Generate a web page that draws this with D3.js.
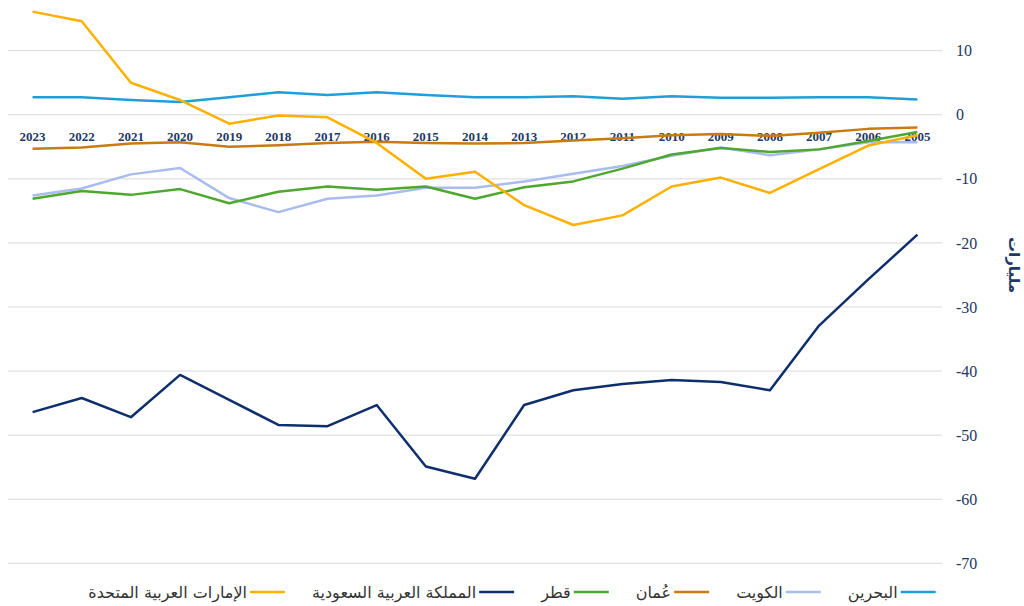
<!DOCTYPE html>
<html>
<head>
<meta charset="utf-8">
<script src="https://cdn.jsdelivr.net/npm/d3@7"></script>
<style>
  body { margin: 0; background: #fff; }
  svg { display: block; }
</style>
</head>
<body>
<svg id="chart" width="1024" height="606"></svg>
<script>
// years, right-to-left order as in the original (2023 on the left)
const years = ["2023","2022","2021","2020","2019","2018","2017","2016","2015","2014",
               "2013","2012","2011","2010","2009","2008","2007","2006","2005"];

const bahrain = [2.75,2.75,2.3,2.0,2.75,3.5,3.1,3.5,3.1,2.75,2.75,2.9,2.5,2.9,2.65,2.65,2.75,2.75,2.4];
const kuwait  = [-12.6,-11.5,-9.3,-8.3,-13.0,-15.2,-13.1,-12.6,-11.4,-11.4,-10.4,-9.2,-8.0,-6.4,-5.1,-6.3,-5.4,-4.3,-4.3];
const oman    = [-5.3,-5.1,-4.5,-4.3,-5.0,-4.75,-4.4,-4.2,-4.4,-4.5,-4.4,-4.0,-3.65,-3.2,-3.0,-3.3,-2.8,-2.2,-2.0];
const qatar   = [-13.1,-11.9,-12.5,-11.6,-13.8,-12.0,-11.2,-11.7,-11.2,-13.1,-11.3,-10.4,-8.4,-6.2,-5.2,-5.8,-5.4,-4.1,-2.7];
const saudi   = [-46.4,-44.2,-47.2,-40.6,-44.5,-48.4,-48.6,-45.3,-54.9,-56.8,-45.3,-43.0,-42.0,-41.4,-41.7,-43.0,-32.9,-25.7,-18.7];
const uae     = [16.1,14.6,5.0,2.3,-1.4,-0.1,-0.4,-4.4,-10.0,-8.9,-14.1,-17.2,-15.7,-11.2,-9.8,-12.2,-8.5,-4.8,-3.2];

const yTicks = [10,0,-10,-20,-30,-40,-50,-60,-70];

const series = [
  { name: "البحرين", values: bahrain, color: "#1f9fd9" },
  { name: "الكويت", values: kuwait, color: "#a9bcee" },
  { name: "عُمان", values: oman, color: "#c97a10" },
  { name: "قطر", values: qatar, color: "#4ea72e" },
  { name: "المملكة العربية السعودية", values: saudi, color: "#0f2f6c" },
  { name: "الإمارات العربية المتحدة", values: uae, color: "#ffb000" }
];

const svg = d3.select("#chart"),
      width = +svg.attr("width");

const plotLeft = 8, plotRight = 942;

const xScale = d3.scaleBand().domain(years).range([plotLeft, plotRight]);
const yScale = d3.scaleLinear().domain([-70, 10]).range([563.3, 50.7]);

// gridlines
svg.append("g")
  .selectAll("line")
  .data(yTicks)
  .join("line")
  .attr("x1", plotLeft)
  .attr("x2", plotRight)
  .attr("y1", d => yScale(d))
  .attr("y2", d => yScale(d))
  .attr("stroke", "#d9d9d9")
  .attr("stroke-width", 1);

// y axis on the right (plain hyphen for negatives)
const yAxis = svg.append("g")
  .attr("transform", `translate(${plotRight},0)`)
  .call(d3.axisRight(yScale).tickValues(yTicks).tickSize(0).tickPadding(14).tickFormat(d => String(d)));
yAxis.select(".domain").remove();
yAxis.selectAll("text")
  .attr("fill", "#203864")
  .style("font-family", "'Liberation Serif', serif")
  .style("font-size", "16px");

// x axis labels sit along the zero line, under the lines
const xAxis = svg.append("g")
  .attr("transform", `translate(0,${yScale(0)})`)
  .call(d3.axisBottom(xScale).tickSize(0).tickPadding(17.5));
xAxis.select(".domain").remove();
xAxis.selectAll("text")
  .attr("fill", "#1f3864")
  .style("font-family", "'Liberation Serif', serif")
  .style("font-weight", "bold")
  .style("font-size", "13px");

// lines
const line = d3.line()
  .x((d, i) => xScale(years[i]) + xScale.bandwidth() / 2)
  .y(d => yScale(d));

svg.append("g")
  .selectAll("path")
  .data(series)
  .join("path")
  .attr("d", d => line(d.values))
  .attr("fill", "none")
  .attr("stroke", d => d.color)
  .attr("stroke-width", 2.5)
  .attr("stroke-linejoin", "round");

// axis title
svg.append("text")
  .attr("transform", `translate(1009,265) rotate(90)`)
  .attr("text-anchor", "middle")
  .attr("fill", "#1f3864")
  .style("font-family", "'DejaVu Sans', sans-serif")
  .style("font-weight", "bold")
  .style("font-size", "15px")
  .text("مليارات");

// legend, laid out right to left, centred on the chart
const legend = svg.append("g");
const swatchW = 35, swatchGap = 3, itemGap = 27, legendY = 598;

const items = legend.selectAll("g")
  .data(series)
  .join("g");

items.append("text")
  .attr("y", legendY)
  .attr("text-anchor", "end")
  .attr("fill", "#333333")
  .style("font-family", "'DejaVu Sans', sans-serif")
  .style("font-size", "16px")
  .text(d => d.name);

items.append("line")
  .attr("y1", legendY - 6)
  .attr("y2", legendY - 6)
  .attr("stroke", d => d.color)
  .attr("stroke-width", 2.5);

const widths = [];
items.select("text").each(function () { widths.push(this.getComputedTextLength()); });
const total = d3.sum(widths) + series.length * (swatchW + swatchGap) + (series.length - 1) * itemGap;

let cursor = width / 2 + total / 2;
items.each(function (d, i) {
  const g = d3.select(this);
  g.select("line").attr("x1", cursor - swatchW).attr("x2", cursor);
  g.select("text").attr("x", cursor - swatchW - swatchGap);
  cursor -= swatchW + swatchGap + widths[i] + itemGap;
});
</script>
</body>
</html>
